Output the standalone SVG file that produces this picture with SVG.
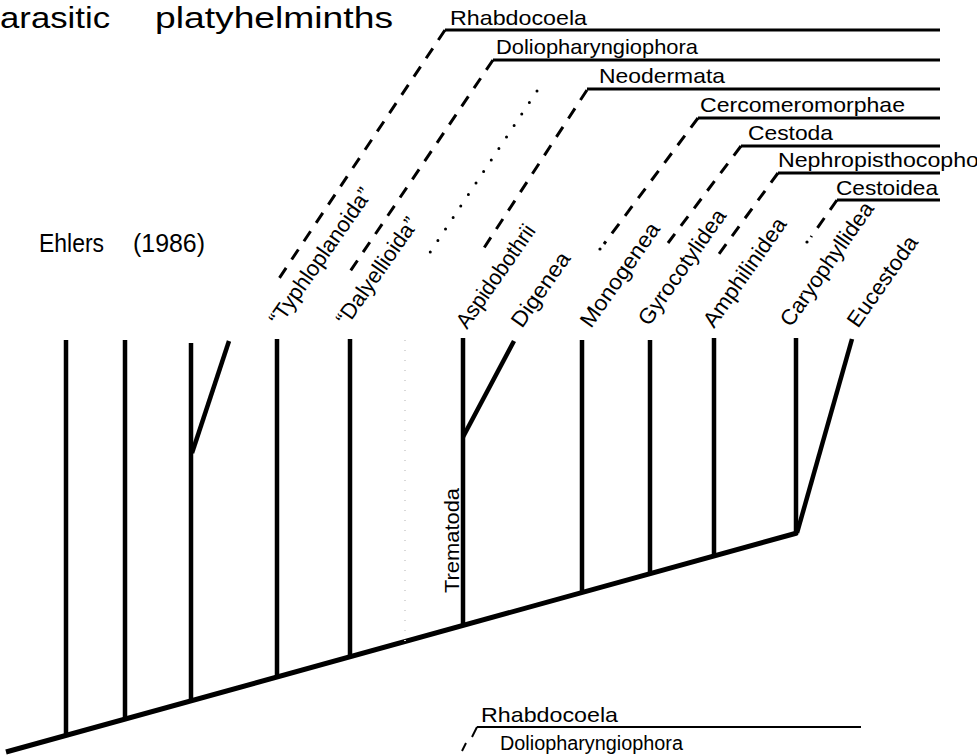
<svg xmlns="http://www.w3.org/2000/svg" width="977" height="755" viewBox="0 0 977 755">
<style>
text{font-family:"Liberation Sans",Arial,sans-serif;fill:#000}
.lab{font-size:21px}
.rot{font-size:22px}
.big{font-size:29px}
.mid{font-size:26px}
.br{stroke:#000;stroke-width:4.5;fill:none;stroke-linecap:butt}
.base{stroke:#000;stroke-width:5;fill:none}
.hl{stroke:#000;stroke-width:3;fill:none}
.dash{stroke:#000;stroke-width:3;fill:none;stroke-dasharray:12 10}
.dot{stroke:#000;stroke-width:3;fill:none;stroke-dasharray:0 13.8;stroke-linecap:round}
.ghost{stroke:#d8d8d8;stroke-width:2;fill:none;stroke-dasharray:1 9}
</style>
<rect width="977" height="755" fill="#fff"/>

<g id="title">
<text class="big" x="0" y="28" textLength="110" lengthAdjust="spacingAndGlyphs">arasitic</text>
<text class="big" x="155" y="28" textLength="238" lengthAdjust="spacingAndGlyphs">platyhelminths</text>
</g>
<g id="author">
<text class="mid" x="39" y="252" textLength="65" lengthAdjust="spacingAndGlyphs">Ehlers</text>
<text class="mid" x="133" y="252" textLength="72" lengthAdjust="spacingAndGlyphs">(1986)</text>
</g>

<g id="connectors">
<path class="base" d="M6,752 L797,533"/>
<path class="br" d="M66,340 V735"/>
<path class="br" d="M125,340 V719"/>
<path class="br" d="M191,343 V701"/>
<path class="br" d="M192,453 L229,341"/>
<path class="br" d="M277,339 V677"/>
<path class="br" d="M350,339 V657"/>
<path class="br" d="M463,338 V625"/>
<path class="br" d="M463,437 L514,341"/>
<path class="br" d="M582,340 V592"/>
<path class="br" d="M650,340 V574"/>
<path class="br" d="M714,338 V556"/>
<path class="br" d="M796,338 V535"/>
<path class="br" d="M797,533 L852,339"/>
<path class="ghost" d="M405,340 V645"/>
<path class="hl" d="M445,30 H940"/>
<path class="hl" d="M493,60 H940"/>
<path class="hl" d="M587,89 H940"/>
<path class="hl" d="M698,118 H940"/>
<path class="hl" d="M741,146 H940"/>
<path class="hl" d="M778,173 H940"/>
<path class="hl" d="M837,200 H940"/>
<path class="dash" d="M445,30 L276,283"/>
<path class="dash" d="M493,60 L347,276"/>
<path class="dot" d="M537,91 L423,263"/>
<path class="dash" d="M587,90 L482,251"/>
<path class="dash" d="M698,118 L604,244"/>
<circle cx="600" cy="249" r="1.6"/>
<path class="dash" d="M741,146 L668,243"/>
<path class="dash" d="M778,173 L716,258"/>
<path class="dash" d="M837,200 L811,237"/>
<circle cx="807" cy="242" r="1.6"/>
<path class="hl" d="M477,727 H861" style="stroke-width:2"/>
<path class="hl" d="M477,727 L472,737" style="stroke-width:2"/>
<path class="hl" d="M466,743 L462,751" style="stroke-width:2"/>
</g>

<g id="n-rhabdocoela"><text class="lab" x="450" y="25" textLength="137" lengthAdjust="spacingAndGlyphs">Rhabdocoela</text></g>
<g id="n-doliopharyngiophora"><text class="lab" x="496" y="54" textLength="202" lengthAdjust="spacingAndGlyphs">Doliopharyngiophora</text></g>
<g id="n-neodermata"><text class="lab" x="599" y="83" textLength="126" lengthAdjust="spacingAndGlyphs">Neodermata</text></g>
<g id="n-cercomeromorphae"><text class="lab" x="700" y="112" textLength="205" lengthAdjust="spacingAndGlyphs">Cercomeromorphae</text></g>
<g id="n-cestoda"><text class="lab" x="748" y="140" textLength="85" lengthAdjust="spacingAndGlyphs">Cestoda</text></g>
<g id="n-nephropisthocophora"><text class="lab" x="778" y="167" textLength="201" lengthAdjust="spacingAndGlyphs">Nephropisthocopho</text></g>
<g id="n-cestoidea"><text class="lab" x="836" y="195" textLength="102" lengthAdjust="spacingAndGlyphs">Cestoidea</text></g>

<g id="n-typhloplanoida"><text class="rot" transform="translate(280,327) rotate(-55)" textLength="162" lengthAdjust="spacingAndGlyphs">“Typhloplanoida”</text></g>
<g id="n-dalyellioida"><text class="rot" transform="translate(347,327) rotate(-55)" textLength="126" lengthAdjust="spacingAndGlyphs">“Dalyellioida”</text></g>
<g id="n-aspidobothrii"><text class="rot" transform="translate(467,330) rotate(-55)" textLength="121" lengthAdjust="spacingAndGlyphs">Aspidobothrii</text></g>
<g id="n-digenea"><text class="rot" transform="translate(522,329) rotate(-55)" textLength="86" lengthAdjust="spacingAndGlyphs">Digenea</text></g>
<g id="n-monogenea"><text class="rot" transform="translate(591,329) rotate(-55)" textLength="122" lengthAdjust="spacingAndGlyphs">Monogenea</text></g>
<g id="n-gyrocotylidea"><text class="rot" transform="translate(649,327) rotate(-55)" textLength="136" lengthAdjust="spacingAndGlyphs">Gyrocotylidea</text></g>
<g id="n-amphilinidea"><text class="rot" transform="translate(714,329) rotate(-55)" textLength="128" lengthAdjust="spacingAndGlyphs">Amphilinidea</text></g>
<g id="n-caryophyllidea"><text class="rot" transform="translate(791,328) rotate(-55)" textLength="146" lengthAdjust="spacingAndGlyphs">Caryophyllidea</text></g>
<g id="n-eucestoda"><text class="rot" transform="translate(858,329) rotate(-55)" textLength="106" lengthAdjust="spacingAndGlyphs">Eucestoda</text></g>
<g id="n-trematoda"><text class="lab" transform="translate(459,593) rotate(-90)" textLength="105" lengthAdjust="spacingAndGlyphs">Trematoda</text></g>

<g id="n-rhabdocoela-2"><text class="lab" x="481" y="722" textLength="137" lengthAdjust="spacingAndGlyphs">Rhabdocoela</text></g>
<g id="n-doliopharyngiophora-2"><text x="500" y="750" font-size="20" textLength="183" lengthAdjust="spacingAndGlyphs">Doliopharyngiophora</text></g>
</svg>
